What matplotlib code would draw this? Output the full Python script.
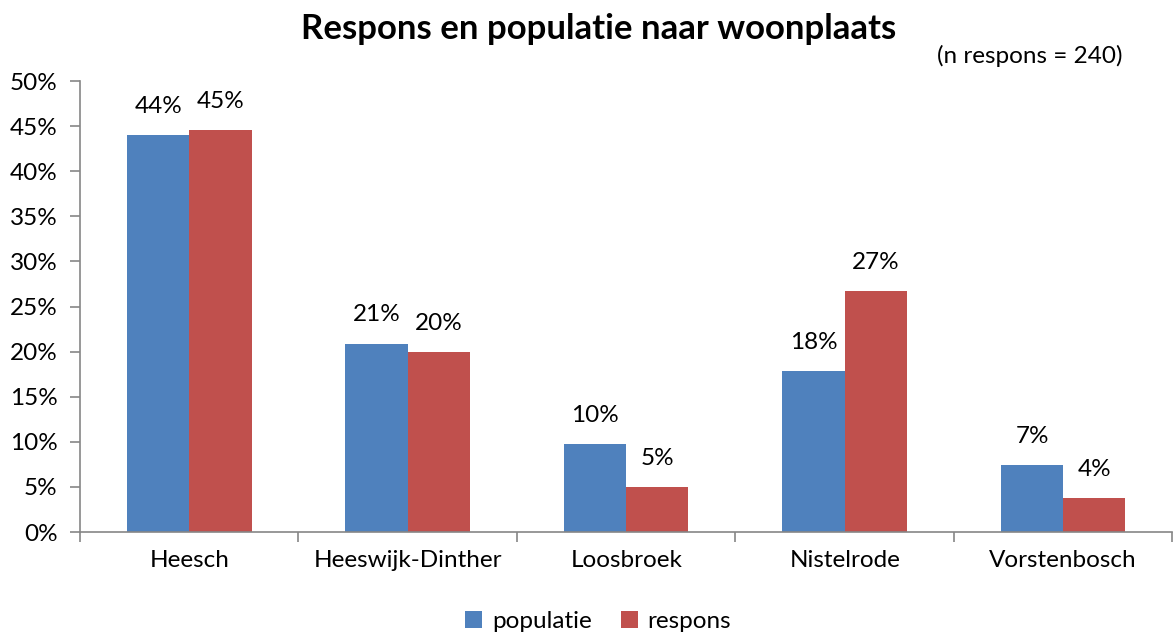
import numpy as np
import matplotlib.pyplot as plt

plt.rcParams['font.family'] = ['Lato', 'DejaVu Sans']

places = ['Heesch', 'Heeswijk-Dinther', 'Loosbroek', 'Nistelrode', 'Vorstenbosch']
populatie = [44.0, 20.9, 9.8, 17.8, 7.4]
respons = [44.6, 20.0, 5.0, 26.7, 3.8]

blue = '#4f81bd'
red = '#c0504d'
grey = '#868686'

fig = plt.figure(figsize=(11.73, 6.37), dpi=100)
ax = fig.add_axes([0.0682, 0.1648, 0.9313, 0.708])

x = np.arange(len(places))
w = 0.285
b1 = ax.bar(x - w / 2, populatie, w, color=blue, label='populatie')
b2 = ax.bar(x + w / 2, respons, w, color=red, label='respons')

for bars, vals in ((b1, populatie), (b2, respons)):
    for bar, v in zip(bars, vals):
        ax.text(bar.get_x() + bar.get_width() / 2, v + 2.0, f'{v:.0f}%',
                ha='center', va='bottom', fontsize=17.5)

ax.set_xlim(-0.5, len(places) - 0.5)
ax.set_ylim(0, 50)
ax.set_yticks(np.arange(0, 51, 5))
ax.set_yticklabels([f'{t}%' for t in range(0, 51, 5)], fontsize=17.5)
ax.set_xticks(x)
ax.set_xticklabels(places, fontsize=17.5)
ax.tick_params(axis='x', length=0, pad=13)
ax.set_xticks(np.arange(-0.5, len(places)), minor=True)
ax.tick_params(axis='x', which='minor', length=7, color=grey, width=1.2)
ax.tick_params(axis='y', length=7, color=grey, width=1.2, pad=9)

for s in ['top', 'right']:
    ax.spines[s].set_visible(False)
for s in ['left', 'bottom']:
    ax.spines[s].set_color(grey)
    ax.spines[s].set_linewidth(1.2)

fig.text(0.51, 0.955, 'Respons en populatie naar woonplaats', ha='center', va='center',
         fontsize=25, fontweight='bold')
fig.text(0.957, 0.912, '(n respons = 240)', ha='right', va='center', fontsize=17.5)

fig.legend(handles=[b1, b2], loc='center', bbox_to_anchor=(0.51, 0.025), ncol=2,
           frameon=False, fontsize=17.5, handlelength=0.7, handleheight=0.7,
           handletextpad=0.4, columnspacing=1.2)

fig.savefig('out.png', dpi=100)
